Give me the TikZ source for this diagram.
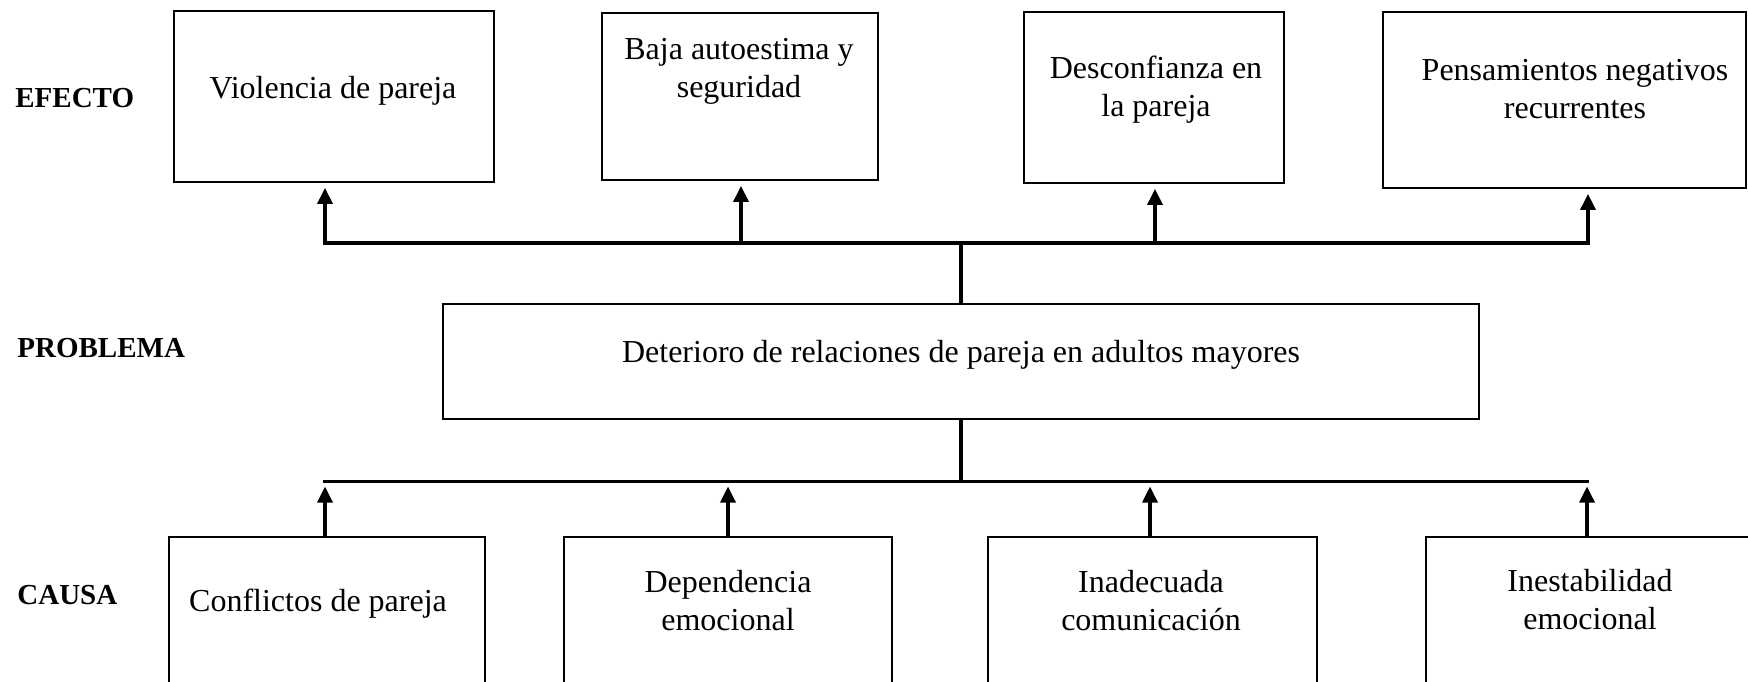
\documentclass[tikz,border=0pt]{standalone}
\usepackage{fontspec}
\setmainfont{Liberation Serif}
\usetikzlibrary{arrows.meta}
\begin{document}
\begin{tikzpicture}[x=0.5pt,y=-0.5pt,
  box/.style={draw=black, line width=0.9pt, inner sep=0pt},
  txt/.style={anchor=base, inner sep=0pt, align=center, font=\fontsize{16}{19}\selectfont},
  lbl/.style={anchor=base west, inner sep=0pt, font=\fontsize{14.5}{17}\selectfont\bfseries},
  bar/.style={line width=1.7pt, line cap=rect},
  arr/.style={line width=1.7pt, -{Triangle[width=7.5pt,length=8pt]}, shorten >=2.5pt}]
\useasboundingbox (0,0) rectangle (1748,681);
\clip (0,0) rectangle (1748,681);

% boxes
\node[box, minimum width=160pt, minimum height=85.5pt] (e1) at (334,96.5) {};
\node[box, minimum width=138pt, minimum height=83.5pt] (e2) at (740,96.5) {};
\node[box, minimum width=130pt, minimum height=85.5pt] (e3) at (1154,97.5) {};
\node[box, minimum width=181.5pt, minimum height=88pt] (e4) at (1564.5,100) {};
\node[box, minimum width=518pt, minimum height=57.5pt] (p) at (961,361.5) {};
\node[box, minimum width=158pt, minimum height=91.5pt] (c1) at (327,628.5) {};
\node[box, minimum width=164pt, minimum height=91.5pt] (c2) at (728,628.5) {};
\node[box, minimum width=164.5pt, minimum height=91.5pt] (c3) at (1152.5,628.5) {};
\node[box, minimum width=167pt, minimum height=91.5pt] (c4) at (1593,628.5) {};

% texts (base anchor = last line's baseline)
\node[txt] (t1) at (333,98) {Violencia de pareja};
\node[txt] (t2) at (739,97) {Baja autoestima y\\seguridad};
\node[txt] (t3) at (1156,116) {Desconfianza en\\la pareja};
\node[txt] (t4) at (1575,118) {Pensamientos negativos\\recurrentes};
\node[txt] (tp) at (961,362) {Deterioro de relaciones de pareja en adultos mayores};
\node[txt] (tc1) at (318,611) {Conflictos de pareja};
\node[txt] (tc2) at (728,630) {Dependencia\\emocional};
\node[txt] (tc3) at (1151,630) {Inadecuada\\comunicación};
\node[txt] (tc4) at (1590,629) {Inestabilidad\\emocional};

% labels
\node[lbl] (l1) at (15,107) {EFECTO};
\node[lbl] (l2) at (17,357) {PROBLEMA};
\node[lbl] (l3) at (17,604) {CAUSA};

% upper connectors
\coordinate (ub1) at (325,243);
\coordinate (ub2) at (741,243);
\coordinate (ub3) at (1155,243);
\coordinate (ub4) at (1588,243);
\draw[bar] (ub1) -- (ub4);
\draw[bar] (p.north) -- (p.north |- ub1);
\draw[arr] (ub1) -- (ub1 |- e1.south);
\draw[arr] (ub2) -- (ub2 |- e2.south);
\draw[arr] (ub3) -- (ub3 |- e3.south);
\draw[arr] (ub4) -- (ub4 |- e4.south);

% lower connectors
\coordinate (lb1) at (325,481.5);
\coordinate (lb2) at (728,481.5);
\coordinate (lb3) at (1150,481.5);
\coordinate (lb4) at (1587,481.5);
\draw[bar] (lb1) -- (lb4);
\draw[bar] (p.south) -- (p.south |- lb1);
\draw[arr] (lb1 |- c1.north) -- (lb1);
\draw[arr] (lb2 |- c2.north) -- (lb2);
\draw[arr] (lb3 |- c3.north) -- (lb3);
\draw[arr] (lb4 |- c4.north) -- (lb4);
\end{tikzpicture}
\end{document}
